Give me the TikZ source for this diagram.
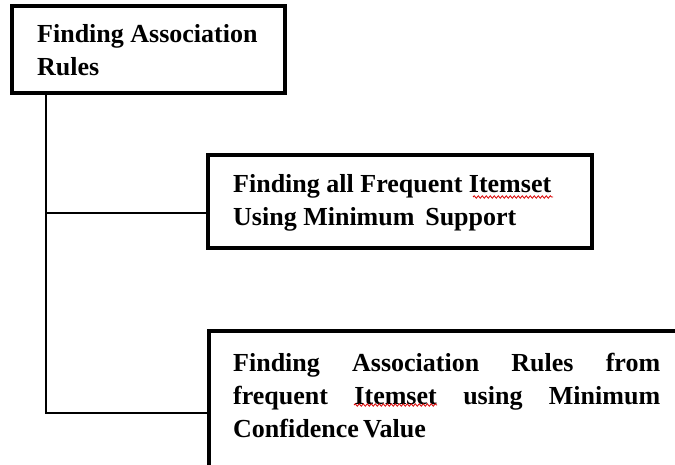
\documentclass[tikz,border=0pt]{standalone}
\usepackage{fontspec}
\setmainfont{Liberation Serif}
\usetikzlibrary{decorations.pathmorphing}

\tikzset{
  stepbox/.style={draw=black, line width=3.2pt, fill=white, inner sep=0pt, rectangle},
  label text/.style={anchor=base west, inner sep=0pt, align=left,
    font=\bfseries\fontsize{26}{33}\selectfont},
  link/.style={draw=black, line width=2.8pt},
  spellmark/.style={draw=red!85!black, line width=0.8pt,
    decorate, decoration={snake, amplitude=1.2pt, segment length=4pt}}
}

\begin{document}
\begin{tikzpicture}[x=1pt, y=-1pt]
  \useasboundingbox (0,0) rectangle (675,464);
  \clip (0,0) rectangle (675,464);

  % the three boxes
  \node[stepbox, minimum width=273pt, minimum height=87pt] (root) at (148.5,49.5) {};
  \node[stepbox, minimum width=384pt, minimum height=93pt] (freq) at (400,201.5) {};
  \node[stepbox, minimum width=520pt, minimum height=170pt] (rules) at (469,416) {};

  % trunk and branches
  \coordinate (trunk) at (46,93);
  \coordinate (j1) at (46,213);
  \coordinate (j2) at (46,413);
  \draw[link] (trunk) -- (j2) -- (j2 -| rules.west);
  \draw[link] (j1) -- (j1 -| freq.west);

  % box texts (anchored at the baseline of their last line)
  \node[label text] (roottext) at (37,75) {Finding Association\\Rules};
  \node[label text] (freqtext) at (233,225) {Finding all Frequent Itemset\\Using Minimum\ \,Support};
  \node[label text] (rulestext) at (233,437)
    {\makebox[427pt][s]{Finding Association Rules from}\\
     \makebox[427pt][s]{frequent Itemset using Minimum}\\
     Confidence\,Value};

  % spell-check underlines below "Itemset"
  \coordinate (w1a) at (473,197);
  \coordinate (w1b) at (553,197);
  \coordinate (w2a) at (354,405);
  \coordinate (w2b) at (437,405);
  \draw[spellmark] (w1a) -- (w1b);
  \draw[spellmark] (w2a) -- (w2b);
\end{tikzpicture}
\end{document}
